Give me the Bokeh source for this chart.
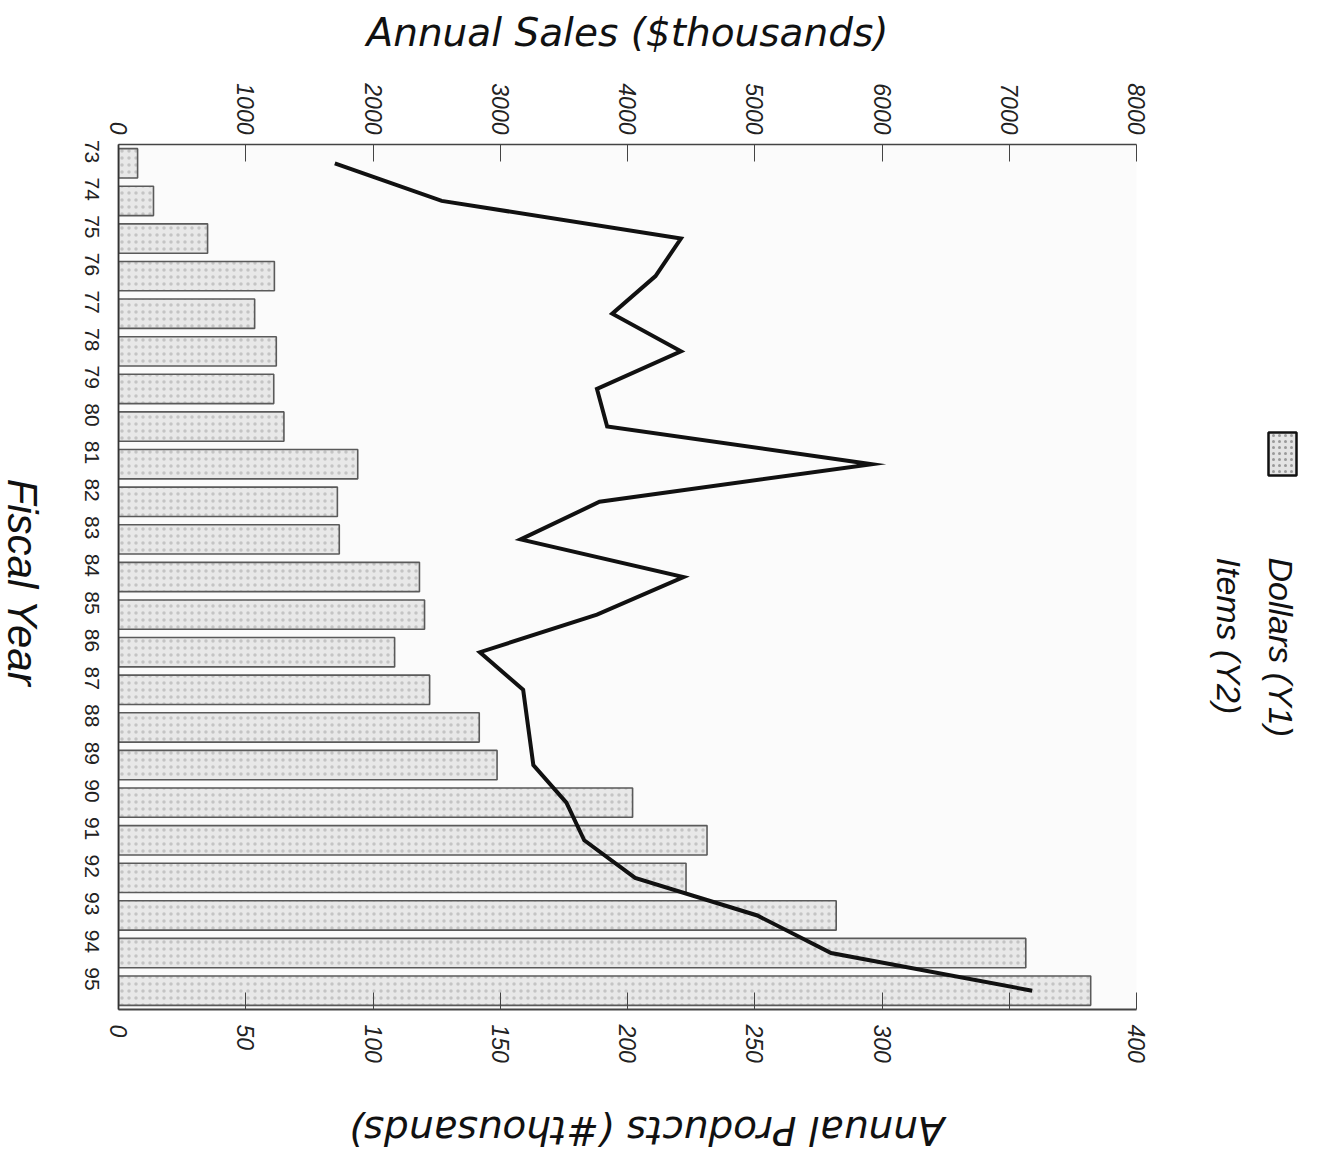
import math
from bokeh.plotting import figure
from bokeh.layouts import row, column
from bokeh.models import (Range1d, FactorRange, LinearAxis, FixedTicker, Label,
                          ColumnDataSource)
from bokeh.embed import file_html
from bokeh.resources import INLINE

years = ["73", "74", "75", "76", "77", "78", "79", "80", "81", "82", "83", "84",
         "85", "86", "87", "88", "89", "90", "91", "92", "93", "94", "95"]
dollars = [150, 275, 700, 1225, 1070, 1240, 1220, 1300, 1880, 1720, 1735, 2365,
           2405, 2170, 2445, 2835, 2975, 4040, 4625, 4460, 5640, 7130, 7640]
items = [85, 127, 221, 211, 194, 221, 188, 192, 296, 189, 158, 222,
         188, 142, 159, 161, 163, 176, 183, 203, 251, 280, 359]
dollar_ticks = [0, 1000, 2000, 3000, 4000, 5000, 6000, 7000, 8000]
item_ticks = [0, 50, 100, 150, 200, 250, 300, 350, 400]
legend_labels = ["Dollars (Y1)", "Items (Y2)"]

TICK_FONT = "Liberation Sans"
LEFT_W = 48          # width of the left title strip
FRAME_TOP, FRAME_BOT = 144, 1009
TOP_H = 1079         # height of the main row
BOT_H = 80           # height of the bottom title strip
LEG_W = 167

p = figure(
    x_range=Range1d(0, 8000),
    y_range=FactorRange(factors=years[::-1], range_padding=0),
    x_axis_location="above",
    frame_width=1018, frame_height=FRAME_BOT - FRAME_TOP,
    min_border_left=118 - LEFT_W, min_border_right=20,
    min_border_top=FRAME_TOP, min_border_bottom=TOP_H - FRAME_BOT,
    output_backend="svg", toolbar_location=None,
)
p.outline_line_color = None
p.background_fill_color = "#fbfbfb"
p.border_fill_color = "white"
p.xgrid.grid_line_color = None
p.ygrid.grid_line_color = None

p.extra_x_ranges = {"items": Range1d(0, 400)}

src = ColumnDataSource(dict(year=years, dollars=dollars, items=items))

p.hbar(y="year", right="dollars", left=0, height=0.78, source=src,
       fill_color="#e8e8e8", line_color="#5a5a5a", line_width=1.6,
       hatch_pattern="dot", hatch_color="#c4c4c4", hatch_scale=7, hatch_weight=1.2)

p.line(x="items", y="year", source=src, x_range_name="items",
       line_color="#111111", line_width=4, line_join="miter")

def style_axis(ax, size):
    ax.major_label_text_font = TICK_FONT
    ax.major_label_text_font_style = "italic"
    ax.major_label_text_font_size = size
    ax.major_label_text_color = "#222222"
    ax.minor_tick_line_color = None

# top axis (Dollars)
ax_top = p.xaxis[0]
ax_top.ticker = FixedTicker(ticks=dollar_ticks)
ax_top.major_label_orientation = -math.pi / 2
ax_top.major_tick_in = 17
ax_top.major_tick_out = 0
ax_top.axis_line_color = "#444444"
ax_top.axis_line_width = 1.6
ax_top.major_tick_line_color = "#444444"
style_axis(ax_top, "23px")
ax_top.major_label_standoff = 10
ax_top.axis_label = "Annual Sales ($thousands)"
ax_top.axis_label_text_font = "DejaVu Sans"
ax_top.axis_label_text_font_style = "italic"
ax_top.axis_label_text_font_size = "39px"
ax_top.axis_label_text_color = "#111111"
ax_top.axis_label_standoff = 25

# bottom axis (Items)
ax_bot = LinearAxis(x_range_name="items", ticker=FixedTicker(ticks=item_ticks))
ax_bot.major_label_overrides = {350: ""}
ax_bot.major_label_orientation = -math.pi / 2
ax_bot.major_tick_in = 17
ax_bot.major_tick_out = 0
ax_bot.axis_line_color = "#444444"
ax_bot.axis_line_width = 2.2
ax_bot.major_tick_line_color = "#444444"
style_axis(ax_bot, "23px")
ax_bot.major_label_standoff = 15
p.add_layout(ax_bot, "below")

# left axis (years)
ax_l = p.yaxis[0]
ax_l.major_label_orientation = -math.pi / 2
ax_l.major_tick_in = 0
ax_l.major_tick_out = 0
ax_l.axis_line_color = "#333333"
ax_l.axis_line_width = 1.8
style_axis(ax_l, "21px")
ax_l.major_label_text_font_style = "normal"
ax_l.major_label_standoff = 27


def strip(x0, x1, y0, y1, h):
    # y range (y0..y1) is given in page pixels of the strip's frame
    f = figure(x_range=Range1d(x0, x1), y_range=Range1d(y1, y0),
               width=x1 - x0, height=h, min_border=0,
               output_backend="svg", toolbar_location=None)
    f.axis.visible = False
    f.xgrid.grid_line_color = None
    f.ygrid.grid_line_color = None
    f.outline_line_color = None
    f.background_fill_color = "white"
    f.border_fill_color = "white"
    return f


def text(f, txt, x, y, angle, size, align="center", font="Liberation Sans"):
    f.add_layout(Label(text=txt, x=x, y=y, angle=angle,
                       text_align=align, text_baseline="middle",
                       text_font=font, text_font_style="italic",
                       text_font_size=size, text_color="#111111"))


# left strip: "Fiscal Year" (its frame is aligned with the chart frame by the row)
lf = strip(0, LEFT_W, FRAME_TOP, FRAME_BOT, TOP_H)
text(lf, "Fiscal Year", 22, 582, -math.pi / 2, "42px")

# legend strip (right of the chart)
x_main_end = LEFT_W + (118 - LEFT_W) + 1018 + 20
leg = strip(x_main_end, x_main_end + LEG_W, FRAME_TOP, FRAME_BOT, TOP_H)
leg.quad(left=[1268], right=[1296], top=[432], bottom=[475],
         fill_color="#e4e4e4", line_color="#111111", line_width=2.5,
         hatch_pattern="dot", hatch_color="#9a9a9a", hatch_scale=6)
for txt, xpos in zip(legend_labels, [1280, 1228]):
    text(leg, txt, xpos, 557, -math.pi / 2, "34px", align="left")

# bottom strip: upside-down axis title
bf = strip(0, x_main_end + LEG_W, TOP_H, TOP_H + BOT_H, BOT_H)
text(bf, "Annual Products (#thousands)", 646, 1130, math.pi, "39px", font="DejaVu Sans")

layout = column(row(lf, p, leg, spacing=0), bf, spacing=0)
open("out.html", "w").write(file_html(layout, INLINE))
